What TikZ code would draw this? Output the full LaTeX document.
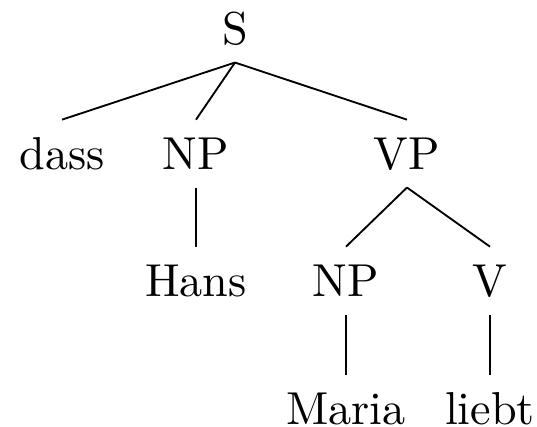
\documentclass[tikz,border=0pt]{standalone}
\begin{document}
\begin{tikzpicture}[x=0.2166pt, y=-0.2166pt,
    word/.style = {anchor=base, inner sep=3.2pt, text height=7.5pt, text depth=0.4pt}]
    \useasboundingbox (0, 0) rectangle (537, 427);
    \node[word] (s) at (235, 45) {S};
    \node[word] (dass) at (62, 170) {dass};
    \node[word] (np1) at (196, 170) {NP};
    \node[word] (vp) at (407, 170) {VP};
    \node[word] (hans) at (196, 297) {Hans};
    \node[word] (np2) at (346, 297) {NP};
    \node[word] (v) at (490, 297) {V};
    \node[word] (maria) at (346, 425) {Maria};
    \node[word] (liebt) at (490, 425) {liebt};

    \foreach \child in {dass, np1, vp}
       \draw (s.south) -- (\child.north);
    \draw (np1.south) -- (hans.north);
    \draw (vp.south) -- (np2.north);
    \draw (vp.south) -- (v.north);
    \draw (np2.south) -- (maria.north);
    \draw (v.south) -- (liebt.north);
\end{tikzpicture}
\end{document}
